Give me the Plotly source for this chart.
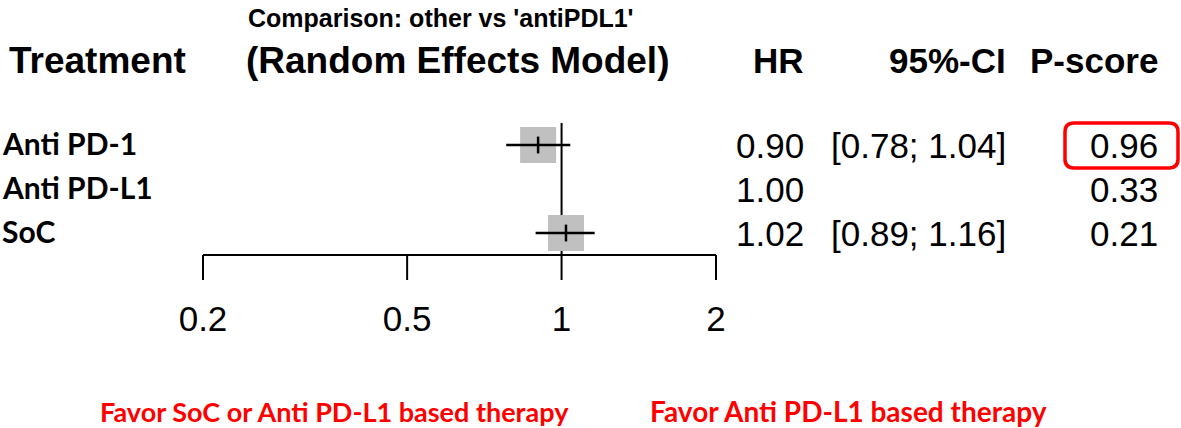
import plotly.graph_objects as go
import numpy as np

# ---- data ----
treatments = ["Anti PD-1", "Anti PD-L1", "SoC"]
hr = [0.90, 1.00, 1.02]
ci_low = [0.78, None, 0.89]
ci_high = [1.04, None, 1.16]
hr_text = ["0.90", "1.00", "1.02"]
ci_text = ["[0.78; 1.04]", "", "[0.89; 1.16]"]
pscore_text = ["0.96", "0.33", "0.21"]
tick_vals = [0.2, 0.5, 1, 2]
tick_text = ["0.2", "0.5", "1", "2"]
title_text = "Comparison: other vs 'antiPDL1'"
header_left = "Treatment"
header_mid = "(Random Effects Model)"
headers_right = ["HR", "95%-CI", "P-score"]
favor_left = "Favor SoC or Anti PD-L1 based therapy"
favor_right = "Favor Anti PD-L1 based therapy"

W, H = 1181, 428
ARIAL = "Liberation Sans, Arial, sans-serif"
CAL = "Lato, Noto Sans, sans-serif"

# pixel geometry helpers
px_per_dec = 513.0
x0_px = 203.0  # pixel of 0.2
lo = np.log10(0.2) - x0_px / px_per_dec
hi = lo + W / px_per_dec
row0_px, row_h = 145.0, 44.0
y_top = -row0_px / row_h
y_bot = (H - row0_px) / row_h

def px(x):
    return x / W

def rowpx(p):
    return (p - row0_px) / row_h

rows = list(range(len(treatments)))
axis_row = rowpx(255)

fig = go.Figure()

# reference line at 1
fig.add_trace(go.Scatter(x=[1, 1], y=[rowpx(123), axis_row], mode="lines",
                         line=dict(color="black", width=2), hoverinfo="skip"))

# squares
sq_x = [h for h, l in zip(hr, ci_low) if l is not None]
sq_y = [r for r, l in zip(rows, ci_low) if l is not None]
fig.add_trace(go.Scatter(x=sq_x, y=sq_y, mode="markers",
                         marker=dict(symbol="square", size=36, color="#c0c0c0",
                                     line=dict(width=0)), hoverinfo="skip"))
# CI lines
for r, l, h in zip(rows, ci_low, ci_high):
    if l is None:
        continue
    fig.add_trace(go.Scatter(x=[l, h], y=[r, r], mode="lines",
                             line=dict(color="black", width=2.5), hoverinfo="skip"))
# point estimate ticks
fig.add_trace(go.Scatter(x=sq_x, y=sq_y, mode="markers",
                         marker=dict(symbol="line-ns", size=12,
                                     line=dict(width=2.5, color="black")),
                         hoverinfo="skip"))

# x axis line and ticks
fig.add_trace(go.Scatter(x=[tick_vals[0], tick_vals[-1]], y=[axis_row, axis_row],
                         mode="lines", line=dict(color="black", width=2), hoverinfo="skip"))
for t in tick_vals:
    fig.add_trace(go.Scatter(x=[t, t], y=[axis_row, rowpx(280)], mode="lines",
                             line=dict(color="black", width=2), hoverinfo="skip"))
fig.add_trace(go.Scatter(x=tick_vals, y=[rowpx(322)] * len(tick_vals), mode="text",
                         text=tick_text, textfont=dict(family=ARIAL, size=35, color="black"),
                         hoverinfo="skip"))

ann = []
# title and headers
ann.append(dict(x=px(441), y=rowpx(18), xref="paper", yref="y", text=f"<b>{title_text}</b>",
                showarrow=False, xanchor="center", yanchor="middle",
                font=dict(family=ARIAL, size=25, color="black")))
ann.append(dict(x=px(7), y=rowpx(60), xref="paper", yref="y", text=f"<b>{header_left}</b>",
                showarrow=False, xanchor="left", yanchor="middle",
                font=dict(family=ARIAL, size=37, color="black")))
ann.append(dict(x=px(457), y=rowpx(60), xref="paper", yref="y", text=f"<b>{header_mid}</b>",
                showarrow=False, xanchor="center", yanchor="middle",
                font=dict(family=ARIAL, size=37, color="black")))
right_edges = [806, 1008, 1160]
for t, xr in zip(headers_right, right_edges):
    ann.append(dict(x=px(xr), y=rowpx(60), xref="paper", yref="y", text=f"<b>{t}</b>",
                    showarrow=False, xanchor="right", yanchor="middle",
                    font=dict(family=ARIAL, size=35, color="black")))

# rows
for r, name, a, b, c in zip(rows, treatments, hr_text, ci_text, pscore_text):
    ann.append(dict(x=px(0), y=r - 0.05, xref="paper", yref="y", text=f"<b>{name}</b>",
                    showarrow=False, xanchor="left", yanchor="middle",
                    font=dict(family=CAL, size=30, color="black")))
    for t, xr in zip([a, b, c], right_edges):
        if t:
            ann.append(dict(x=px(xr), y=r, xref="paper", yref="y", text=t,
                            showarrow=False, xanchor="right", yanchor="middle",
                            font=dict(family=ARIAL, size=35, color="black")))

# favor labels
ann.append(dict(x=px(98), y=rowpx(411), xref="paper", yref="y", text=f"<b>{favor_left}</b>",
                showarrow=False, xanchor="left", yanchor="middle",
                font=dict(family=CAL, size=27, color="#ff0000")))
ann.append(dict(x=px(648), y=rowpx(411), xref="paper", yref="y", text=f"<b>{favor_right}</b>",
                showarrow=False, xanchor="left", yanchor="middle",
                font=dict(family=CAL, size=28, color="#ff0000")))

# red rounded highlight box around first P-score
bx0, bx1, by0, by1, rad = 1065, 1178, 123, 168, 9
def P(x, y):
    return f"{x / W:.5f},{1 - y / H:.5f}"
path = (f"M {P(bx0 + rad, by0)} L {P(bx1 - rad, by0)} Q {P(bx1, by0)} {P(bx1, by0 + rad)} "
        f"L {P(bx1, by1 - rad)} Q {P(bx1, by1)} {P(bx1 - rad, by1)} "
        f"L {P(bx0 + rad, by1)} Q {P(bx0, by1)} {P(bx0, by1 - rad)} "
        f"L {P(bx0, by0 + rad)} Q {P(bx0, by0)} {P(bx0 + rad, by0)} Z")
shapes = [dict(type="path", xref="paper", yref="paper", path=path,
               line=dict(color="#ff0000", width=3.5))]

fig.update_layout(
    width=W, height=H, margin=dict(l=0, r=0, t=0, b=0),
    paper_bgcolor="white", plot_bgcolor="white", showlegend=False,
    xaxis=dict(type="log", range=[lo, hi], visible=False, fixedrange=True),
    yaxis=dict(range=[y_bot, y_top], visible=False, fixedrange=True),
    annotations=ann, shapes=shapes,
)
fig.write_html("out.html", config={"displayModeBar": False},
               post_script="document.body.style.margin='0';document.body.style.overflow='hidden';")
